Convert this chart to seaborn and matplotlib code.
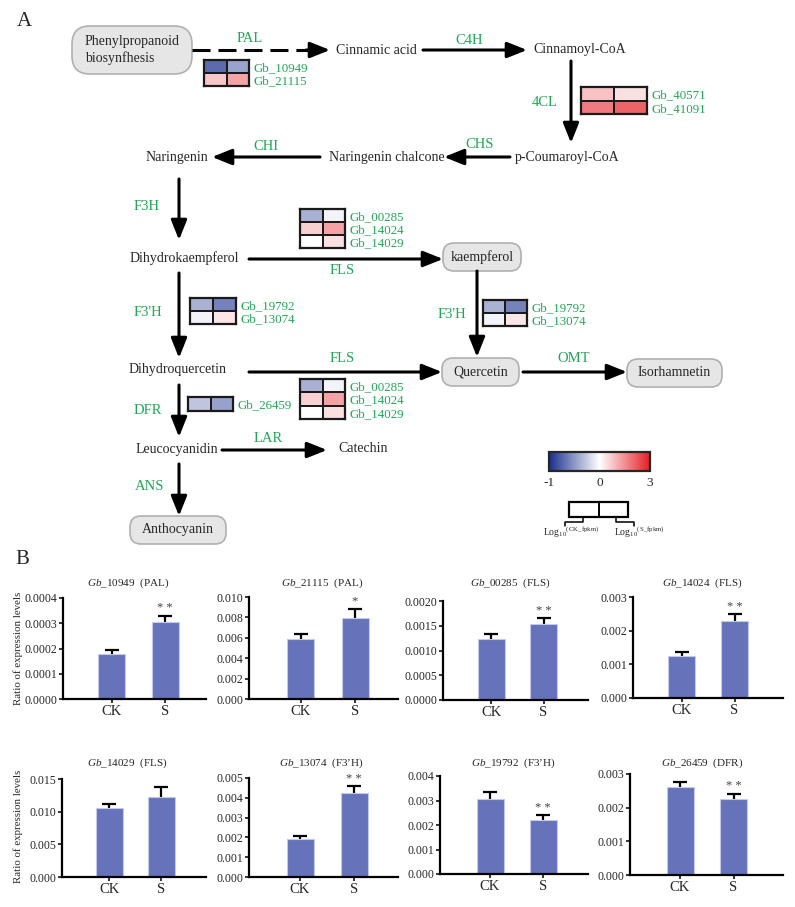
import numpy as np
import pandas as pd
import matplotlib
matplotlib.use("Agg")
import matplotlib.pyplot as plt
import seaborn as sns
from matplotlib.colors import LinearSegmentedColormap, TwoSlopeNorm
from matplotlib.patches import FancyBboxPatch, Rectangle
from matplotlib.ticker import FormatStrFormatter
import matplotlib.cm as cm

sns.set_theme(style="white")
plt.rcParams["font.family"] = ["Liberation Serif", "DejaVu Serif"]
plt.rcParams["mathtext.fontset"] = "custom"
plt.rcParams["mathtext.rm"] = "Liberation Serif"
plt.rcParams["mathtext.it"] = "Liberation Serif:italic"
plt.rcParams["mathtext.default"] = "regular"

# ---------------- data: panel A heatmaps (log10 fpkm, CK / S) ----------------
pal_genes = ["Gb_10949", "Gb_21115"]
pal_ck = [-0.71, 0.77]
pal_s = [-0.44, 1.20]

cl4_genes = ["Gb_40571", "Gb_41091"]
cl4_ck = [0.80, 1.77]
cl4_s = [0.41, 2.07]

fls_genes = ["Gb_00285", "Gb_14024", "Gb_14029"]
fls_ck = [-0.38, 0.63, 0.00]
fls_s = [-0.05, 1.23, 0.42]

f3h_genes = ["Gb_19792", "Gb_13074"]
f3h_ck = [-0.37, -0.05]
f3h_s = [-0.60, 0.33]

dfr_genes = ["Gb_26459"]
dfr_ck = [-0.28]
dfr_s = [-0.45]

# ---------------- data: panel B bar charts ----------------
b_genes = ["Gb_10949", "Gb_21115", "Gb_00285", "Gb_14024",
           "Gb_14029", "Gb_13074", "Gb_19792", "Gb_26459"]
b_enzymes = ["PAL", "PAL", "FLS", "FLS", "FLS", "F3\u2019H", "F3\u2019H", "DFR"]
groups = ["CK", "S"]
ck_vals = [0.000178, 0.00591, 0.00124, 0.00126, 0.01051, 0.00194, 0.00306, 0.00261]
ck_errs = [0.000015, 0.00043, 0.00009, 0.00010, 0.00070, 0.00013, 0.00027, 0.00014]
s_vals = [0.000304, 0.00790, 0.00154, 0.00230, 0.01224, 0.00424, 0.00220, 0.00225]
s_errs = [0.000026, 0.00092, 0.00011, 0.00019, 0.00150, 0.00035, 0.00019, 0.00017]
sig = ["**", "*", "**", "**", "", "**", "**", "**"]
y_max = [0.0004, 0.010, 0.0020, 0.003, 0.015, 0.005, 0.004, 0.003]
y_step = [0.0001, 0.002, 0.0005, 0.001, 0.005, 0.001, 0.001, 0.001]
y_dec = [4, 3, 4, 3, 3, 3, 3, 3]

# ---------------- figure ----------------
W, H = 795, 907
GREEN = "#1fa855"
BAR = "#6673ba"
fig = plt.figure(figsize=(W / 100, H / 100), dpi=100)
fig.patch.set_facecolor("white")


def px_rect(x0, y0, x1, y1):
    return [x0 / W, 1 - y1 / H, (x1 - x0) / W, (y1 - y0) / H]


ov = fig.add_axes([0, 0, 1, 1])
ov.set_xlim(0, W)
ov.set_ylim(H, 0)
ov.axis("off")

cmap = LinearSegmentedColormap.from_list("bwr2", ["#1b2f8c", "#ffffff", "#e41e26"])
norm = TwoSlopeNorm(vmin=-1, vcenter=0, vmax=3)


def arrow(x0, y0, x1, y1):
    ov.annotate("", xy=(x1, y1), xytext=(x0, y0),
                arrowprops=dict(arrowstyle="-|>,head_length=1.0,head_width=0.4",
                                lw=2.2, color="black", shrinkA=0, shrinkB=0))


def rbox(x0, y0, x1, y1, text, r=11, ha="center", tx=None):
    p = FancyBboxPatch((x0, y0), x1 - x0, y1 - y0,
                       boxstyle="round,pad=0,rounding_size=%g" % r,
                       fc="#e6e6e6", ec="#b0b0b0", lw=1.2)
    ov.add_patch(p)
    if tx is None:
        tx = (x0 + x1) / 2
    ov.text(tx, (y0 + y1) / 2, text, ha=ha, va="center", fontsize=10,
            linespacing=1.25)


def comp(x, y, text, ha="left"):
    ov.text(x, y, text, ha=ha, va="center", fontsize=10)


def enz(x, y, text):
    ov.text(x, y, text, ha="center", va="center", fontsize=10.5, color=GREEN)


def heat(genes, ck, s, rect):
    df = pd.DataFrame({"CK": ck, "S": s}, index=genes)
    hax = fig.add_axes(px_rect(*rect))
    sns.heatmap(df, ax=hax, cmap=cmap, norm=norm, cbar=False,
                linewidths=1.1, linecolor="#1a1a1a",
                xticklabels=False, yticklabels=True)
    for sp in hax.spines.values():
        sp.set_visible(True)
        sp.set_linewidth(1.6)
        sp.set_color("#1a1a1a")
    hax.yaxis.tick_right()
    hax.tick_params(axis="y", length=0, pad=3, labelsize=9.3, labelcolor=GREEN,
                    rotation=0)
    hax.set_ylabel("")
    hax.set_xlabel("")


# panel label
ov.text(17, 22, "A", fontsize=15, va="center", ha="left")
ov.text(15, 560, "B", fontsize=15, va="center", ha="left")

# boxes
rbox(72, 26, 192, 74, "Phenylpropanoid\nbiosynfhesis", r=18, ha="left", tx=85)
rbox(443, 243, 521, 271, "kaempferol")
rbox(442, 358, 519, 386, "Quercetin")
rbox(627, 359, 722, 387, "Isorhamnetin")
rbox(130, 516, 226, 544, "Anthocyanin")

# compounds
comp(336, 50, "Cinnamic acid")
comp(533, 50, "Cinnamoyl-CoA")
comp(515, 157, "p-Coumaroyl-CoA")
comp(329, 157, "Naringenin chalcone")
comp(146, 157, "Naringenin")
comp(130, 258, "Dihydrokaempferol")
comp(129, 370, "Dihydroquercetin")
comp(136, 449, "Leucocyanidin")
comp(338, 449, "Catechin")

# arrows
ov.plot([192, 312], [50, 50], color="black", lw=2.2, ls=(0, (5.9, 2.6)),
        solid_capstyle="butt", dash_capstyle="butt")
arrow(306, 50, 330, 50)
arrow(423, 50, 527, 50)
arrow(571, 61, 571, 143)
arrow(510, 157, 444, 157)
arrow(320, 157, 212, 157)
arrow(179, 179, 179, 240)
arrow(249, 259, 443, 259)
arrow(179, 273, 179, 358)
arrow(477, 271, 477, 357)
arrow(249, 372, 442, 372)
arrow(523, 372, 627, 372)
arrow(179, 385, 179, 437)
arrow(222, 450, 327, 450)
arrow(179, 464, 179, 516)

# enzyme labels
enz(250, 39, "PAL")
enz(469, 41, "C4H")
enz(545, 102, "4CL")
enz(480, 144, "CHS")
enz(266, 146, "CHI")
enz(147, 207, "F3H")
enz(342, 270, "FLS")
enz(148, 313, "F3'H")
enz(452, 314, "F3'H")
enz(342, 359, "FLS")
enz(574, 359, "OMT")
enz(148, 410, "DFR")
enz(268, 438, "LAR")
enz(150, 486, "ANS")

# heatmaps
heat(pal_genes, pal_ck, pal_s, (204, 60, 249, 86))
heat(cl4_genes, cl4_ck, cl4_s, (581, 87, 647, 114))
heat(fls_genes, fls_ck, fls_s, (300, 209, 345, 248))
heat(f3h_genes, f3h_ck, f3h_s, (190, 298, 236, 324))
heat(f3h_genes, f3h_ck, f3h_s, (483, 300, 527, 326))
heat(fls_genes, fls_ck, fls_s, (300, 379, 345, 419))
heat(dfr_genes, dfr_ck, dfr_s, (188, 397, 233, 411))

# colour bar
cax = fig.add_axes(px_rect(549, 452, 650, 471))
sm = cm.ScalarMappable(norm=norm, cmap=cmap)
cb = fig.colorbar(sm, cax=cax, orientation="horizontal")
cb.set_ticks([-1, -0.5, 0, 1.5, 3])
cb.set_ticklabels(["-1", "", "0", "", "3"])
cax.tick_params(direction="in", length=3.5, width=1.2, top=True, bottom=True,
                labelsize=9.5, pad=4, color="black")
cb.outline.set_linewidth(1.6)

# legend key box
ov.add_patch(Rectangle((569, 502), 59, 15, fc="white", ec="black", lw=1.6))
ov.plot([599, 599], [502, 517], color="black", lw=1.4)
ov.plot([583, 583, 565, 565], [517, 522, 522, 526], color="black", lw=1.1)
ov.plot([616, 616, 634, 634], [517, 522, 522, 526], color="black", lw=1.1)
ov.text(543, 532, r"Log$_{10}$$^{(CK\_fpkm)}$", fontsize=7, ha="left", va="center")
ov.text(614, 532, r"Log$_{10}$$^{(S\_fpkm)}$", fontsize=7, ha="left", va="center")

# ---------------- panel B ----------------
ax_px = [(63, 598, 206, 699), (249, 597, 398, 699), (443, 601, 588, 700), (633, 597, 783, 698),
         (62, 779, 206, 877), (249, 778, 398, 877), (440, 776, 588, 874), (630, 774, 783, 875)]
bar_cx = [(111.5, 165), (300.5, 355), (491, 543.5), (681.5, 734.5),
          (109, 161), (300, 354), (490, 543), (680, 733.5)]
title_x = [128, 322, 510, 702, 127, 321, 513, 702]
title_y = [583, 583, 583, 583, 763, 763, 763, 763]

for i in range(8):
    x0, y0, x1, y1 = ax_px[i]
    c0, c1 = bar_cx[i]
    d = c1 - c0
    ax = fig.add_axes(px_rect(x0, y0, x1, y1))
    ax.set_facecolor("none")
    vals = [ck_vals[i], s_vals[i]]
    errs = [ck_errs[i], s_errs[i]]
    ax.errorbar([0, 1], vals, yerr=errs, fmt="none", ecolor="black",
                elinewidth=1.6, capsize=5.2, capthick=1.6, zorder=0.5)
    sns.barplot(x=groups, y=vals, color=BAR, saturation=1, width=27 / d,
                errorbar=None, ax=ax, edgecolor="#c3c9ea", linewidth=0.8, zorder=2)
    ax.set_xlim((x0 - c0) / d, (x1 - c0) / d)
    ax.set_ylim(0, y_max[i])
    n = int(round(y_max[i] / y_step[i]))
    ax.set_yticks([k * y_step[i] for k in range(n + 1)])
    ax.yaxis.set_major_formatter(FormatStrFormatter("%%.%df" % y_dec[i]))
    for side in ["top", "right"]:
        ax.spines[side].set_visible(False)
    for side in ["left", "bottom"]:
        ax.spines[side].set_linewidth(1.6)
        ax.spines[side].set_color("black")
    ax.tick_params(axis="y", direction="out", length=3, width=1.1, pad=1,
                   labelsize=8.5, left=True, color="black")
    ax.tick_params(axis="x", direction="out", length=3, width=1.1, pad=1.5,
                   labelsize=10.5, bottom=True, color="black")
    ax.set_xlabel("")
    ax.set_ylabel("")
    if sig[i]:
        ax.annotate(" ".join(sig[i]), xy=(1, vals[1] + errs[1]), xytext=(0, 1),
                    textcoords="offset points", ha="center", va="bottom",
                    fontsize=9, color="#444444")
    g = b_genes[i].replace("_", r"\_")
    ov.text(title_x[i], title_y[i], r"$\mathit{%s}$  (%s)" % (g, b_enzymes[i]),
            ha="center", va="center", fontsize=8)

ov.text(18, 648, "Ratio of expression levels", rotation=90, ha="center",
        va="center", fontsize=7.8)
ov.text(18, 826, "Ratio of expression levels", rotation=90, ha="center",
        va="center", fontsize=7.8)

fig.savefig("out.png", dpi=100, facecolor="white")
